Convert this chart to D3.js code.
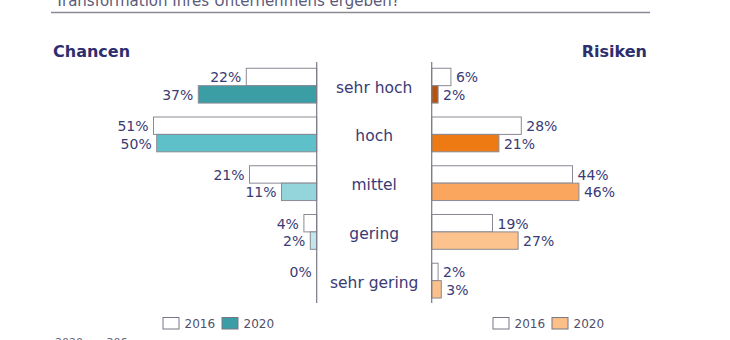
<!DOCTYPE html>
<html><head><meta charset="utf-8">
<script src="https://cdn.jsdelivr.net/npm/d3@7"></script>
<style>body{margin:0;background:#fff}svg{display:block}text{font-family:"DejaVu Sans",Verdana,sans-serif}</style>
</head><body><svg id="c" width="730" height="340"></svg>
<script>
const categories = ["sehr hoch","hoch","mittel","gering","sehr gering"];
const years = ["2016","2020"];
const chancen2016 = [22,51,21,4,0];
const chancen2020 = [37,50,11,2,null];
const risiken2016 = [6,28,44,19,2];
const risiken2020 = [2,21,46,27,3];
const chancenColors = ["#3b9ea5","#5ec0c8","#93d5db","#c2e7ea","#d8f0f2"];
const risikenColors = ["#b4540e","#ee7a14","#fba65f","#fcc38e","#fcc08a"];
const titleText = "Transformation Ihres Unternehmens ergeben?";
const footText = "2020: n=306";

const svg = d3.select("#c");
const textCol = "#3a3a74";
const leftAxisX = 316.7, rightAxisX = 431.7;

const y = d3.scaleBand().domain(categories).range([61.3,305]).paddingInner(0.286).paddingOuter(0.143);
const ySub = d3.scaleBand().domain(years).range([0,y.bandwidth()]);
const xL = d3.scaleLinear().domain([0,50]).range([leftAxisX,leftAxisX-160]);
const xR = d3.scaleLinear().domain([0,50]).range([rightAxisX,rightAxisX+160]);

// title remnant
svg.append("text").attr("x",55).attr("y",5.5).attr("font-size",15).attr("fill","#5a5a7a").text(titleText);
svg.append("line").attr("x1",51).attr("x2",650).attr("y1",12.5).attr("y2",12.5).attr("stroke","#8a8a95").attr("stroke-width",1.5);

svg.append("text").attr("x",53).attr("y",57).attr("font-size",16).attr("font-weight","bold").attr("fill","#2e2e6e").text("Chancen");
svg.append("text").attr("x",647).attr("y",57).attr("text-anchor","end").attr("font-size",16).attr("font-weight","bold").attr("fill","#2e2e6e").text("Risiken");

function side(vals16, vals20, colors, x, left){
  const rows = [];
  categories.forEach((c,i)=>{
    rows.push({c, yr:"2016", v:vals16[i], fill:"#ffffff"});
    rows.push({c, yr:"2020", v:vals20[i], fill:colors[i]});
  });
  const g = svg.append("g");
  const valid = rows.filter(d=>d.v!==null);
  g.selectAll("rect").data(valid).join("rect")
    .attr("x",d=>left? x(d.v): x(0))
    .attr("width",d=>Math.abs(x(d.v)-x(0)))
    .attr("y",d=>y(d.c)+ySub(d.yr))
    .attr("height",ySub.bandwidth())
    .attr("fill",d=>d.fill)
    .attr("stroke",d=>d.v===0?"#333355":"#8a8a95")
    .attr("stroke-width",d=>d.v===0?1.5:1);
  g.selectAll("text").data(valid).join("text")
    .attr("x",d=>left? x(d.v)-5 : x(d.v)+5)
    .attr("y",d=>y(d.c)+ySub(d.yr)+ySub.bandwidth()/2+5.5)
    .attr("text-anchor",left?"end":"start")
    .attr("font-size",14).attr("fill",textCol)
    .text(d=>d.v+"%");
}
side(chancen2016, chancen2020, chancenColors, xL, true);
side(risiken2016, risiken2020, risikenColors, xR, false);

[leftAxisX, rightAxisX].forEach(ax=>{
  svg.append("line").attr("x1",ax).attr("x2",ax).attr("y1",62).attr("y2",303).attr("stroke","#7a7a88").attr("stroke-width",1.2);
});

svg.selectAll("text.cat").data(categories).join("text").attr("class","cat")
  .attr("x",(leftAxisX+rightAxisX)/2)
  .attr("y",d=>y(d)+y.bandwidth()/2+7)
  .attr("text-anchor","middle").attr("font-size",15.5).attr("fill",textCol)
  .text(d=>d);

// legends
function legend(x0, color){
  const g = svg.append("g").attr("transform",`translate(${x0},317)`);
  const items = [{t:years[0],f:"#ffffff"},{t:years[1],f:color}];
  items.forEach((it,i)=>{
    const xo = i*59;
    g.append("rect").attr("x",xo+0.5).attr("y",0.5).attr("width",16).attr("height",11.5).attr("fill",it.f).attr("stroke","#777788");
    g.append("text").attr("x",xo+22).attr("y",11).attr("font-size",12).attr("fill","#50506a").text(it.t);
  });
}
legend(162.5, chancenColors[0]);
legend(492.5, "#fbbf87");

svg.append("text").attr("x",55).attr("y",346).attr("font-size",11).attr("fill","#666677").text(footText);
</script></body></html>
